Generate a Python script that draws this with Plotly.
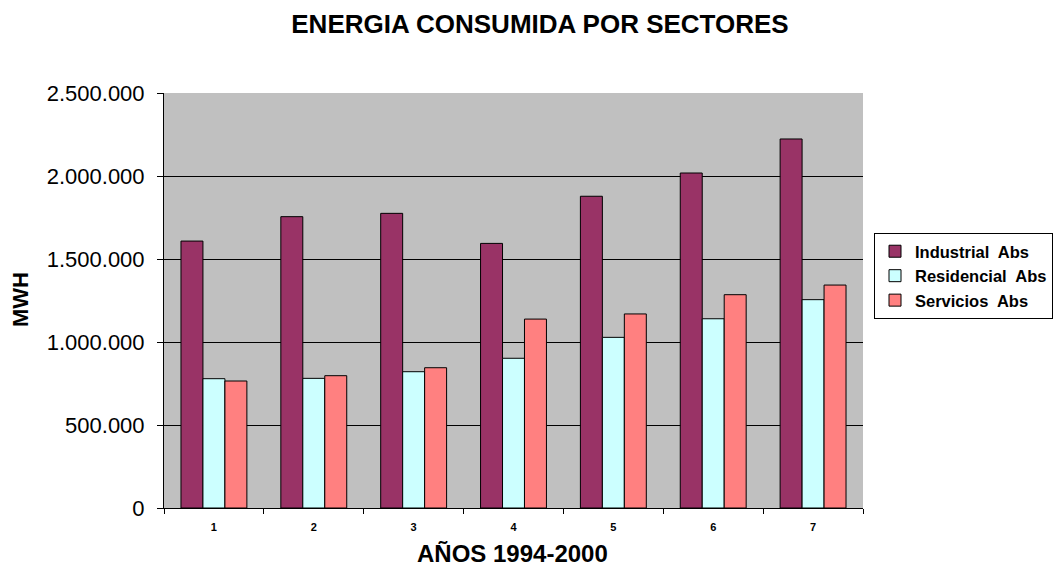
import plotly.graph_objects as go

years = ["1", "2", "3", "4", "5", "6", "7"]
industrial = [1608000, 1755000, 1775000, 1594000, 1878000, 2018000, 2223000]
residencial = [779000, 781000, 821000, 902000, 1028000, 1140000, 1255000]
servicios = [765000, 797000, 845000, 1138000, 1169000, 1285000, 1343000]

series = [
    ("Industrial  Abs", industrial, "#993366"),
    ("Residencial  Abs", residencial, "#CCFFFF"),
    ("Servicios  Abs", servicios, "#FF8080"),
]

# plot area in pixels (left, right, top, bottom)
PL, PR, PT, PB = 164, 863, 93, 508
PW, PH = PR - PL, PB - PT

fig = go.Figure()
for name, vals, color in series:
    fig.add_trace(go.Bar(
        x=years, y=vals, name=name,
        marker=dict(color=color, line=dict(color="black", width=1)),
    ))

fig.update_layout(
    width=1055, height=569,
    margin=dict(l=PL, r=1055 - PR, t=PT, b=569 - PB, autoexpand=False),
    paper_bgcolor="white",
    plot_bgcolor="#C0C0C0",
    separators=",.",
    barmode="group",
    bargap=0.34,
    bargroupgap=0,
    font=dict(family="Arial, Liberation Sans, sans-serif", color="black"),
    title=dict(
        text="<b>ENERGIA CONSUMIDA POR SECTORES</b>",
        x=(540 - PL) / PW, xanchor="center", xref="paper",
        y=1 - 24 / 569, yanchor="middle", yref="container",
        font=dict(size=26),
    ),
    legend=dict(
        x=(874 - PL) / PW, y=(PB - 233) / PH, xanchor="left", yanchor="top",
        bordercolor="black", borderwidth=1,
        font=dict(size=16.5, family="Arial, Liberation Sans, sans-serif", weight="bold"),
        itemwidth=30, tracegroupgap=0,
    ),
    showlegend=True,
    annotations=[
        dict(text="<b>AÑOS 1994-2000</b>", xref="paper", yref="paper",
             x=(512 - PL) / PW, y=(PB - 568) / PH,
             xanchor="center", yanchor="bottom", showarrow=False,
             borderpad=0, font=dict(size=24)),
        dict(text="<b>MWH</b>", xref="paper", yref="paper",
             x=(20 - PL) / PW, y=(PB - 300) / PH, textangle=-90,
             xanchor="center", yanchor="middle", showarrow=False,
             font=dict(size=22)),
    ],
)

fig.update_xaxes(
    type="category",
    tickson="boundaries",
    ticks="outside", ticklen=5, tickcolor="black",
    showline=True, linecolor="black", linewidth=1,
    showgrid=False,
    tickfont=dict(size=11, weight="bold"),
    ticklabelstandoff=9,
)
fig.update_yaxes(
    range=[0, 2500000],
    tickvals=[0, 500000, 1000000, 1500000, 2000000, 2500000],
    tickformat=",.0f",
    ticks="outside", ticklen=6, tickcolor="black",
    showline=True, linecolor="black", linewidth=1,
    showgrid=True, gridcolor="black", gridwidth=1,
    zeroline=False,
    tickfont=dict(size=22),
    ticklabelstandoff=8,
)

fig.write_html("out.html")
